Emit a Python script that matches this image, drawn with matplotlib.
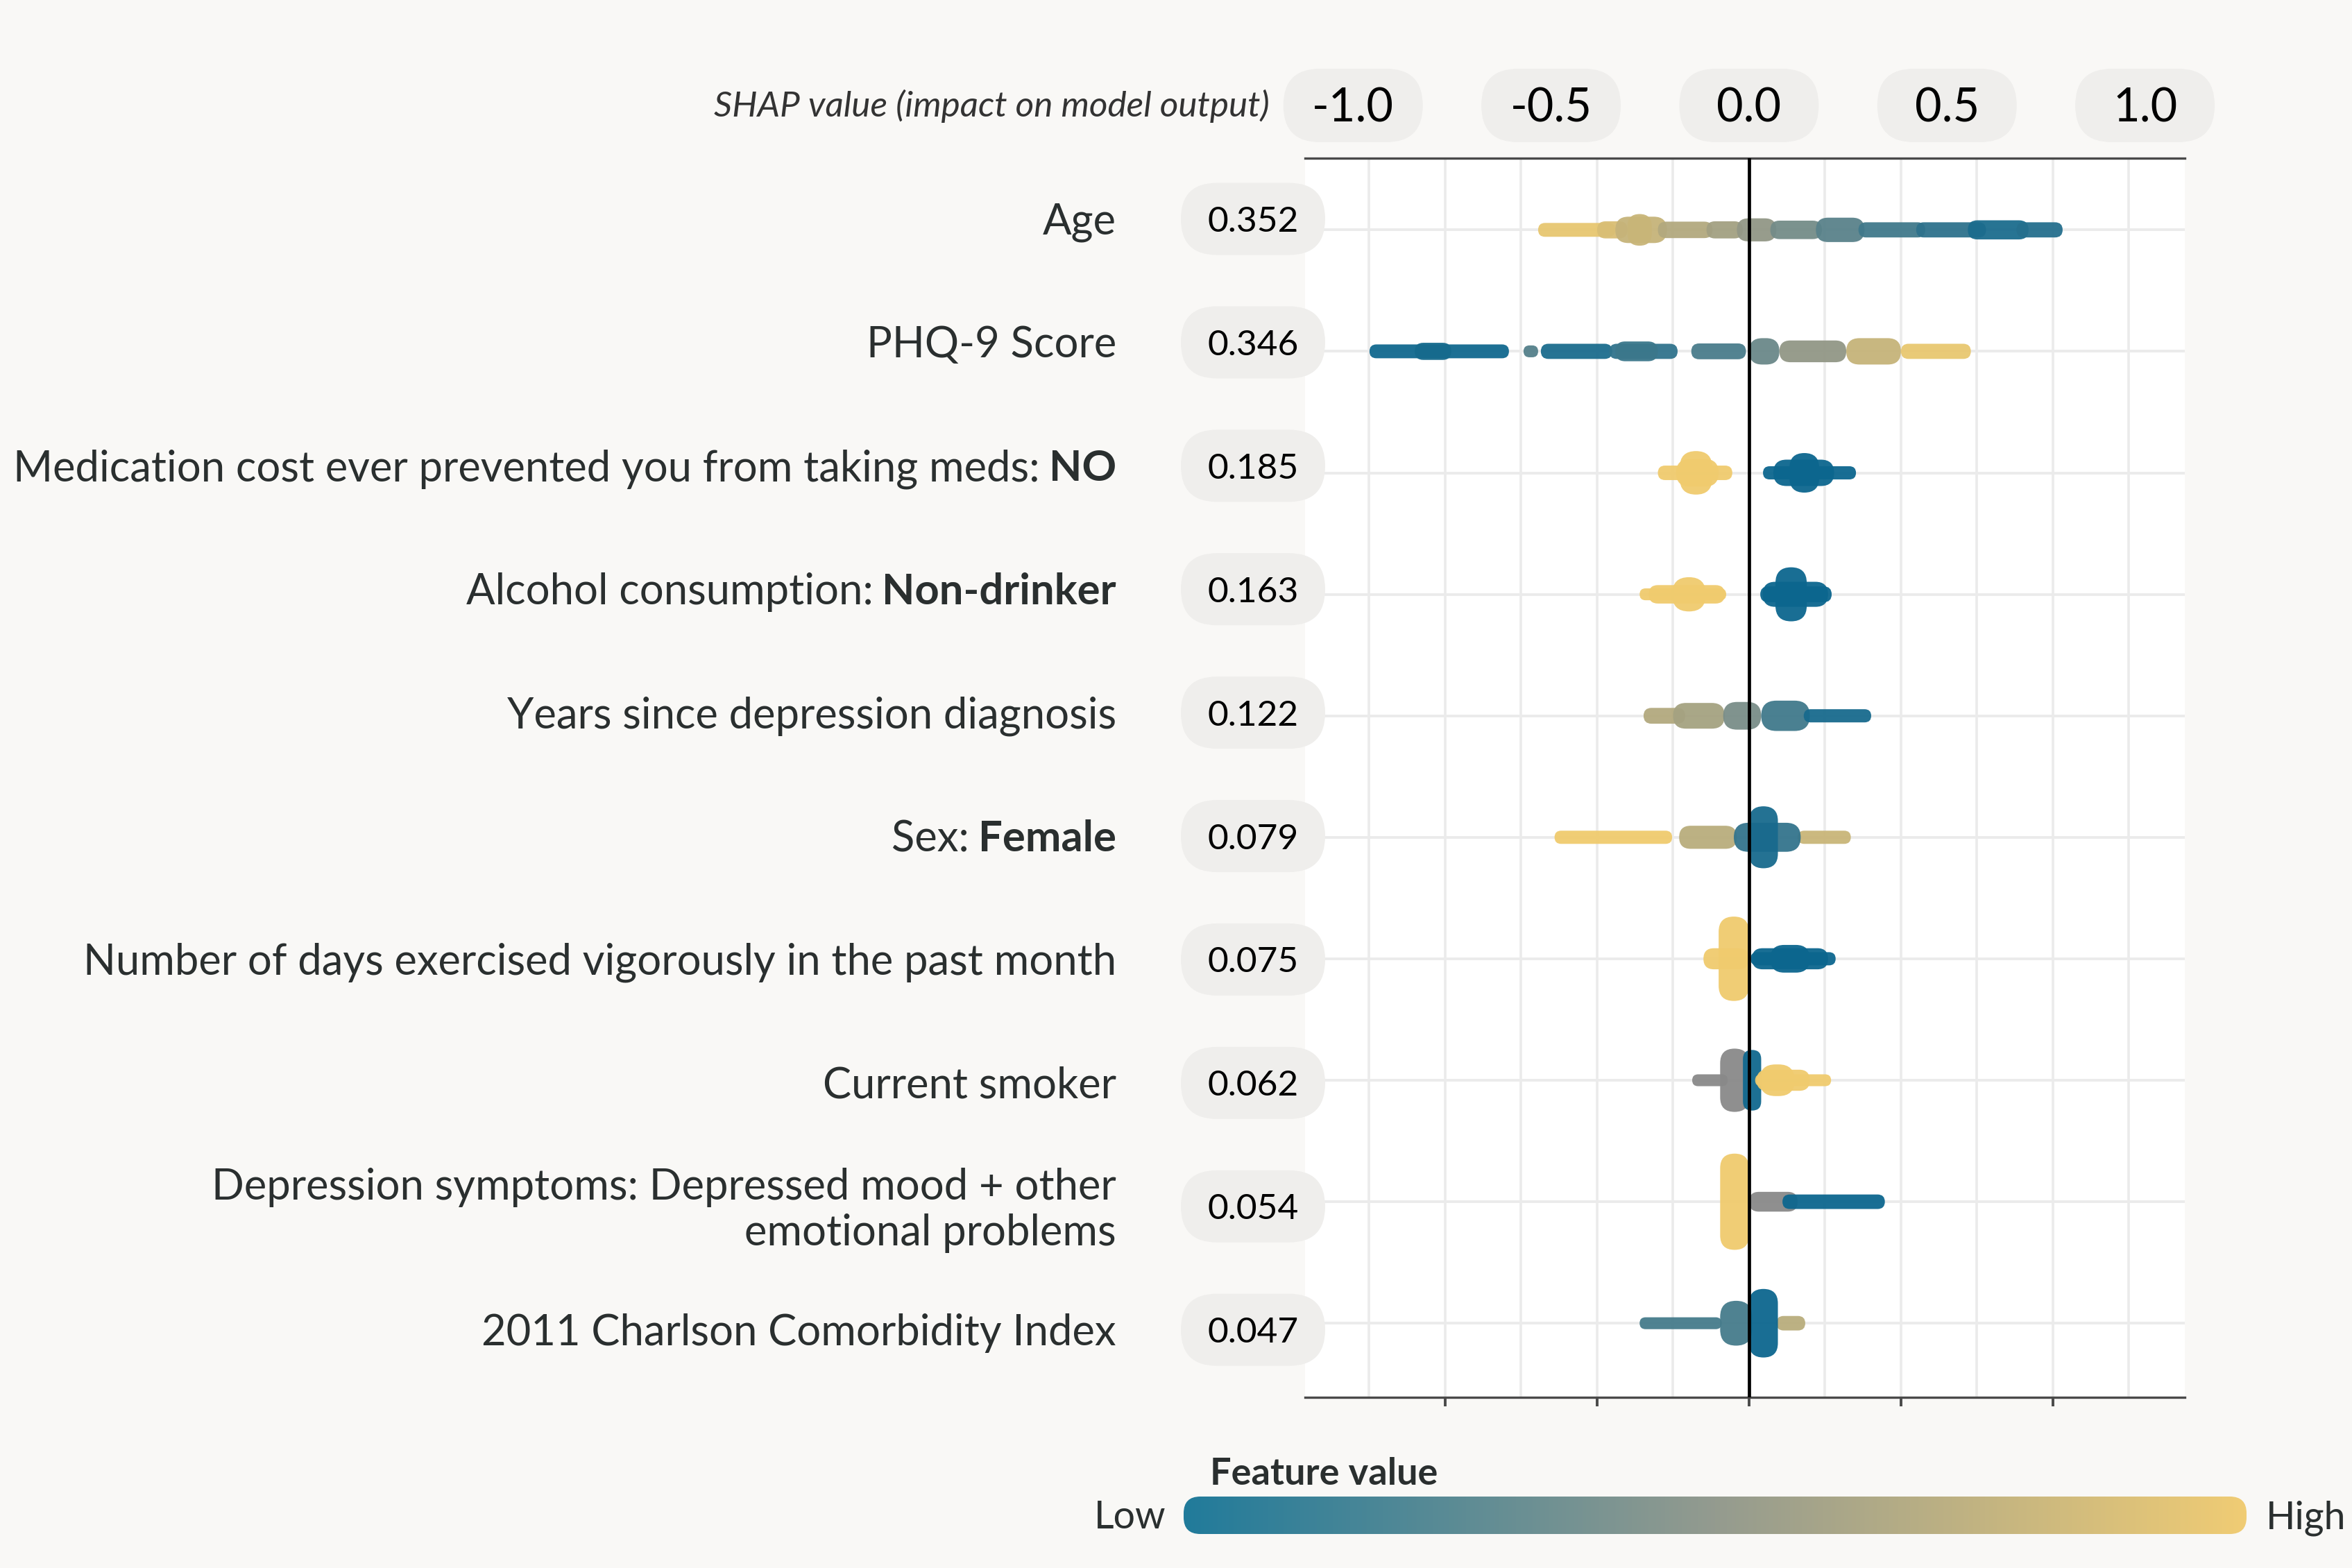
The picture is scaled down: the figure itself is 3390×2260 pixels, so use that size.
import numpy as np
import matplotlib.pyplot as plt
from matplotlib.colors import LinearSegmentedColormap
from matplotlib.patches import FancyBboxPatch

plt.rcParams['font.family'] = ['Lato', 'DejaVu Sans']

# feature names (plain part, bold part) and mean |SHAP|
feature_plain = ['Age', 'PHQ-9 Score',
                 'Medication cost ever prevented you from taking meds:',
                 'Alcohol consumption:', 'Years since depression diagnosis',
                 'Sex:', 'Number of days exercised vigorously in the past month',
                 'Current smoker',
                 'Depression symptoms: Depressed mood + other\nemotional problems',
                 '2011 Charlson Comorbidity Index']
feature_bold = ['', '', 'NO', 'Non-drinker', '', 'Female', '', '', '', '']
importance = ['0.352', '0.346', '0.185', '0.163', '0.122',
              '0.079', '0.075', '0.062', '0.054', '0.047']

top_tick_values = [-1.0, -0.5, 0.0, 0.5, 1.0]
top_tick_labels = ['-1.0', '-0.5', '0.0', '0.5', '1.0']

# beeswarm clusters per feature: (shap start, shap end, stacked dots, feature value 0..1; None = missing)
age_blobs = [(-0.694, -0.44, 1.05, 0.95), (-0.50, -0.40, 1.3, 0.88), (-0.44, -0.27, 2.0, 0.78),
             (-0.40, -0.32, 2.4, 0.80), (-0.30, -0.12, 1.25, 0.68), (-0.14, -0.02, 1.3, 0.60),
             (-0.04, 0.09, 1.75, 0.52), (0.07, 0.24, 1.4, 0.40), (0.22, 0.38, 1.85, 0.30),
             (0.36, 0.58, 1.15, 0.20), (0.55, 0.78, 1.15, 0.13), (0.72, 0.92, 1.45, 0.06),
             (0.88, 1.032, 1.15, 0.10)]
phq_blobs = [(-1.249, -0.79, 1.05, 0.02), (-1.10, -0.98, 1.3, 0.04), (-0.742, -0.694, 0.9, 0.28),
             (-0.685, -0.45, 1.15, 0.06), (-0.46, -0.235, 1.15, 0.14), (-0.44, -0.30, 1.5, 0.18),
             (-0.19, -0.01, 1.2, 0.24), (0.0, 0.10, 2.0, 0.36), (0.10, 0.32, 1.65, 0.52),
             (0.32, 0.50, 2.0, 0.78), (0.50, 0.73, 1.15, 0.96)]
medcost_blobs = [(-0.30, -0.055, 1.1, 1.0), (-0.24, -0.10, 2.1, 1.0), (-0.228, -0.121, 3.3, 1.0),
                 (0.046, 0.352, 1.0, 0.0), (0.08, 0.28, 2.0, 0.0), (0.133, 0.231, 3.0, 0.0)]
alcohol_blobs = [(-0.36, -0.075, 0.9, 1.0), (-0.33, -0.08, 1.4, 1.0), (-0.253, -0.142, 2.6, 1.0),
                 (0.037, 0.272, 1.2, 0.0), (0.045, 0.26, 1.9, 0.0), (0.087, 0.19, 4.1, 0.0)]
years_blobs = [(-0.347, -0.21, 1.2, 0.68), (-0.25, -0.08, 1.95, 0.62), (-0.085, 0.04, 2.1, 0.42),
               (0.04, 0.20, 2.3, 0.20), (0.18, 0.402, 1.0, 0.05)]
sex_blobs = [(-0.64, -0.253, 1.0, 1.0), (-0.23, -0.04, 1.75, 0.72), (0.16, 0.335, 1.0, 0.80),
             (-0.05, 0.17, 2.2, 0.15), (0.0, 0.095, 4.7, 0.05)]
exercise_blobs = [(-0.15, 0.0, 1.6, 1.0), (-0.10, 0.0, 6.4, 1.0), (0.005, 0.285, 1.0, 0.0),
                  (0.01, 0.26, 1.6, 0.0), (0.07, 0.20, 2.1, 0.0)]
smoker_blobs = [(-0.187, -0.07, 0.9, None), (-0.095, 0.0, 4.8, None), (-0.02, 0.04, 4.6, 0.02),
                (0.02, 0.27, 0.9, 1.0), (0.025, 0.20, 1.6, 1.0), (0.035, 0.15, 2.4, 1.0)]
symptoms_blobs = [(-0.095, 0.0, 7.3, 1.0), (0.0, 0.16, 1.5, None), (0.11, 0.447, 1.1, 0.0)]
charlson_blobs = [(-0.36, -0.09, 0.9, 0.22), (-0.095, 0.01, 3.4, 0.22), (0.09, 0.185, 1.1, 0.72),
                  (0.0, 0.095, 5.2, 0.0)]

feature_blobs = [age_blobs, phq_blobs, medcost_blobs, alcohol_blobs, years_blobs,
                 sex_blobs, exercise_blobs, smoker_blobs, symptoms_blobs, charlson_blobs]

# colours
point_cmap = LinearSegmentedColormap.from_list('pts', ['#0c668e', '#8e9587', '#f0cb6e'])
bar_cmap = LinearSegmentedColormap.from_list('bar', ['#217b9b', '#949b8f', '#f0cc74'])
missing_color = '#898989'
bg = '#f9f8f6'
pill_color = '#efeeec'
text_color = '#2a2f2f'

W, H = 3390, 2260
fig = plt.figure(figsize=(W / 100, H / 100), dpi=100, facecolor=bg)
ax = fig.add_axes([1881 / W, 1 - 2014 / H, (3149 - 1881) / W, (2014 - 228) / H])
ax.set_facecolor('white')
ax.set_xlim(-1.461, 1.434)
ax.set_ylim(9.61, -0.59)

ax.set_xticks(top_tick_values)
ax.set_xticks(np.arange(-1.25, 1.26, 0.25), minor=True)
ax.set_yticks(range(len(feature_plain)))
ax.grid(which='both', axis='x', color='#ebebeb', lw=2.6, zorder=0)
ax.grid(which='major', axis='y', color='#ebebeb', lw=2.8, zorder=0)
ax.set_axisbelow(True)
ax.tick_params(axis='x', which='major', direction='out', length=9, width=2.8,
               color='#4a4a4a', labelbottom=False)
ax.tick_params(axis='x', which='minor', length=0)
ax.tick_params(axis='y', length=0, labelleft=False)
for side in ['left', 'right']:
    ax.spines[side].set_visible(False)
for side in ['top', 'bottom']:
    ax.spines[side].set_color('#4a4a4a')
    ax.spines[side].set_linewidth(2.4)
ax.axvline(0, color='black', lw=3.4, zorder=6)

p0 = ax.transData.transform((0, 0))
p1 = ax.transData.transform((1, 1))
px_per_x = p1[0] - p0[0]
px_per_y = abs(p1[1] - p0[1])
dot_px = 19.0

# beeswarm clusters
for row, blobs in enumerate(feature_blobs):
    for x0, x1, stack, val in blobs:
        color = missing_color if val is None else point_cmap(val)
        h_px = stack * dot_px
        w_px = (x1 - x0) * px_per_x
        r_px = min(h_px, w_px) / 2
        h = h_px / px_per_y
        ax.add_patch(FancyBboxPatch((x0, row - h / 2), x1 - x0, h,
                                    boxstyle=f'round,pad=0,rounding_size={r_px / px_per_x}',
                                    mutation_aspect=px_per_x / px_per_y,
                                    fc=color, ec='none', alpha=0.95, zorder=3))


def pill(cx, cy, w, h):
    # cx, cy in display pixels
    fig.add_artist(FancyBboxPatch(((cx - w / 2) / W, (cy - h / 2) / H), w / W, h / H,
                                  boxstyle=f'round,pad=0,rounding_size={h / 2 / W}',
                                  mutation_aspect=W / H, transform=fig.transFigure,
                                  fc=pill_color, ec='none', zorder=2))


# top axis pills
top_scale = 1.303
for v, lab in zip(top_tick_values, top_tick_labels):
    cx = ax.transData.transform((v * top_scale, 0))[0]
    cy = H - 152
    pill(cx, cy, 201, 106)
    fig.text(cx / W, (cy - 23.5) / H, lab, ha='center', va='baseline',
             fontsize=48, color='black', zorder=4)
fig.text(1830 / W, (H - 168) / H, 'SHAP value (impact on model output)', ha='right',
         va='baseline', fontsize=37, style='italic', color='#333333')

# feature labels and importance pills
renderer = fig.canvas.get_renderer()
label_right = 1609
label_size = 44.3
for i, (plain, bold, imp) in enumerate(zip(feature_plain, feature_bold, importance)):
    cy = ax.transData.transform((0, i * 1.016 - 0.09))[1]
    pill(1806, cy, 208, 104)
    fig.text(1806 / W, (cy - 18.5) / H, imp, ha='center', va='baseline',
             fontsize=37, color='black', zorder=4)
    if '\n' in plain:
        fig.text(label_right / W, (cy - 6) / H, plain, ha='right', va='center',
                 multialignment='right', fontsize=label_size, color=text_color,
                 linespacing=1.2)
        continue
    right = label_right
    if bold:
        tb = fig.text(right / W, (cy - 22) / H, bold, ha='right', va='baseline',
                      fontsize=label_size, fontweight='bold', color=text_color)
        right -= tb.get_window_extent(renderer).width + 13
    fig.text(right / W, (cy - 22) / H, plain, ha='right', va='baseline',
             fontsize=label_size, color=text_color)

# colour bar legend
cax = fig.add_axes([1706 / W, 1 - 2211 / H, 1532 / W, 54 / H])
im = cax.imshow(np.linspace(0, 1, 512)[None, :], cmap=bar_cmap, aspect='auto',
                extent=(0, 1, 0, 1))
clip = FancyBboxPatch((0, 0), 1, 1, boxstyle=f'round,pad=0,rounding_size={24 / 1532}',
                      mutation_aspect=1532 / 54, transform=cax.transAxes)
im.set_clip_path(clip)
cax.axis('off')
fig.text(1744 / W, (H - 2140) / H, 'Feature value', ha='left', va='baseline',
         fontsize=39, fontweight='bold', color=text_color)
fig.text(1681 / W, (H - 2203) / H, 'Low', ha='right', va='baseline', fontsize=40, color=text_color)
fig.text(3266 / W, (H - 2203) / H, 'High', ha='left', va='baseline', fontsize=40, color=text_color)

fig.savefig('out.png', dpi=100, facecolor=bg)
